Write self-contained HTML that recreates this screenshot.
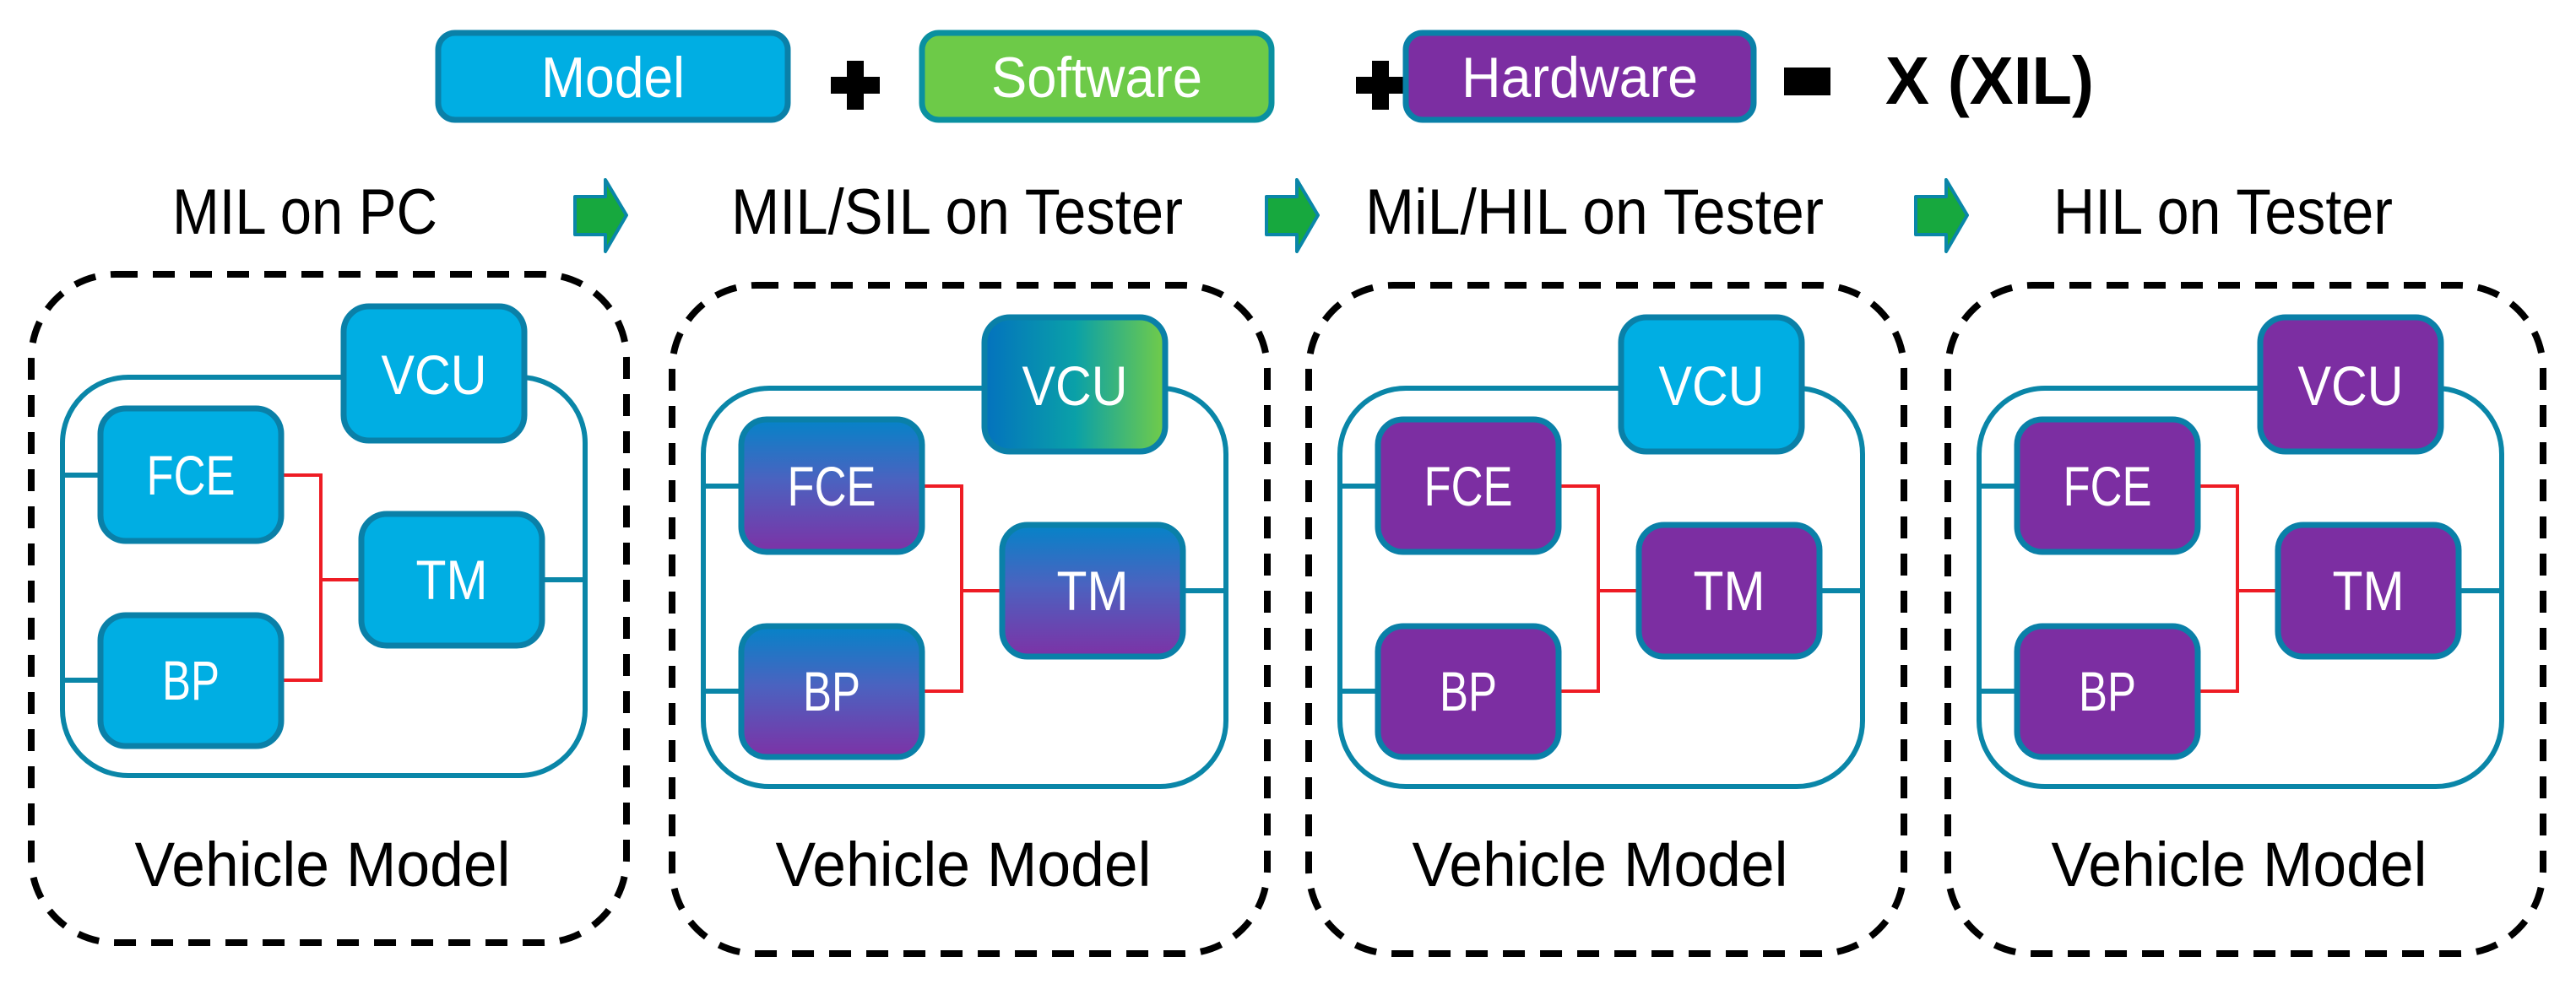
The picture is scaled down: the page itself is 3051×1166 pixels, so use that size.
<!DOCTYPE html>
<html><head><meta charset="utf-8"><style>
html,body{margin:0;padding:0;background:#fff;}
svg{display:block;}
text{font-family:"Liberation Sans",sans-serif;}
</style></head><body>
<svg width="3051" height="1166" viewBox="0 0 3051 1166" xmlns="http://www.w3.org/2000/svg">
<defs>
<linearGradient id="gv" x1="0" y1="0" x2="0" y2="1"><stop offset="0" stop-color="#0583c8"/><stop offset="0.45" stop-color="#4a63c0"/><stop offset="1" stop-color="#7d32a6"/></linearGradient>
<linearGradient id="gh" x1="0" y1="0" x2="1" y2="0"><stop offset="0" stop-color="#0372be"/><stop offset="0.5" stop-color="#0aa0a8"/><stop offset="1" stop-color="#72cc48"/></linearGradient>
<g id="arrow"><path d="M0 20 H36 V0 L61 42 L36 85 V65 H0 Z" fill="#17a83e" stroke="#0a86a8" stroke-width="4" stroke-linejoin="round"/></g>
</defs>

<rect x="519" y="39" width="414" height="103" rx="20" fill="#00aee3" stroke="#0a80a8" stroke-width="7"/>
<text x="726" y="115" font-size="68" fill="#fff" text-anchor="middle" textLength="170" lengthAdjust="spacingAndGlyphs">Model</text>
<path d="M1003 72 h20 v19 h19 v20 h-19 v19 h-20 v-19 h-19 v-20 h19 z" fill="#000"/>
<rect x="1092" y="39" width="414" height="103" rx="20" fill="#6dca48" stroke="#0a90a0" stroke-width="7"/>
<text x="1299" y="115" font-size="68" fill="#fff" text-anchor="middle" textLength="250" lengthAdjust="spacingAndGlyphs">Software</text>
<path d="M1625 72 h20 v19 h19 v20 h-19 v19 h-20 v-19 h-19 v-20 h19 z" fill="#000"/>
<rect x="1665" y="39" width="412" height="103" rx="20" fill="#7c2ea2" stroke="#0a80a8" stroke-width="7"/>
<text x="1871" y="115" font-size="68" fill="#fff" text-anchor="middle" textLength="280" lengthAdjust="spacingAndGlyphs">Hardware</text>
<rect x="2113" y="80" width="55" height="33" fill="#000"/>
<text x="2233" y="123" font-size="80" font-weight="bold" fill="#000" textLength="247" lengthAdjust="spacingAndGlyphs">X (XIL)</text>

<text x="204" y="277" font-size="76" fill="#000" textLength="314" lengthAdjust="spacingAndGlyphs">MIL on PC</text>
<text x="866" y="277" font-size="76" fill="#000" textLength="535" lengthAdjust="spacingAndGlyphs">MIL/SIL on Tester</text>
<text x="1617" y="277" font-size="76" fill="#000" textLength="543" lengthAdjust="spacingAndGlyphs">MiL/HIL on Tester</text>
<text x="2432" y="277" font-size="76" fill="#000" textLength="402" lengthAdjust="spacingAndGlyphs">HIL on Tester</text>
<use href="#arrow" x="681" y="213"/>
<use href="#arrow" x="1500" y="213"/>
<use href="#arrow" x="2269" y="213"/>

<g id="p1">
<rect x="37" y="325" width="705" height="792" rx="100" fill="none" stroke="#000" stroke-width="8" stroke-dasharray="26 18"/>
<rect x="74" y="447" width="619" height="472" rx="78" fill="none" stroke="#0a86a8" stroke-width="6"/>
<path d="M74 563 H120 M74 806 H120 M640 687 H693" stroke="#0a86a8" stroke-width="6" fill="none"/>
<path d="M334 563 H380 V806 H334 M380 687 H428" stroke="#ee1c24" stroke-width="4" fill="none"/>
</g>
<g transform="translate(759,13)"><use href="#p1"/></g>
<g transform="translate(1513,13)"><use href="#p1"/></g>
<g transform="translate(2270,13)"><use href="#p1"/></g>

<g fill="#00aee3" stroke="#0a80a8" stroke-width="7">
<rect x="407" y="363" width="214" height="159" rx="30"/>
<rect x="119" y="484" width="214" height="157" rx="30"/>
<rect x="428" y="609" width="214" height="156" rx="30"/>
<rect x="119" y="729" width="214" height="155" rx="30"/>
</g>
<g stroke="#0a80a8" stroke-width="7">
<rect x="1166" y="376" width="214" height="159" rx="30" fill="url(#gh)"/>
<rect x="878" y="497" width="214" height="157" rx="30" fill="url(#gv)"/>
<rect x="1187" y="622" width="214" height="156" rx="30" fill="url(#gv)"/>
<rect x="878" y="742" width="214" height="155" rx="30" fill="url(#gv)"/>
</g>
<g stroke="#0a80a8" stroke-width="7">
<rect x="1920" y="376" width="214" height="159" rx="30" fill="#00aee3"/>
<rect x="1632" y="497" width="214" height="157" rx="30" fill="#7c2ea2"/>
<rect x="1941" y="622" width="214" height="156" rx="30" fill="#7c2ea2"/>
<rect x="1632" y="742" width="214" height="155" rx="30" fill="#7c2ea2"/>
</g>
<g stroke="#0a80a8" stroke-width="7" fill="#7c2ea2">
<rect x="2677" y="376" width="214" height="159" rx="30"/>
<rect x="2389" y="497" width="214" height="157" rx="30"/>
<rect x="2698" y="622" width="214" height="156" rx="30"/>
<rect x="2389" y="742" width="214" height="155" rx="30"/>
</g>

<g id="l1" font-size="66" fill="#fff" text-anchor="middle">
<text x="514" y="467" textLength="125" lengthAdjust="spacingAndGlyphs">VCU</text>
<text x="226" y="586" textLength="105" lengthAdjust="spacingAndGlyphs">FCE</text>
<text x="535" y="710" textLength="85" lengthAdjust="spacingAndGlyphs">TM</text>
<text x="226" y="829" textLength="68" lengthAdjust="spacingAndGlyphs">BP</text>
</g>
<g transform="translate(759,13)"><use href="#l1"/></g>
<g transform="translate(1513,13)"><use href="#l1"/></g>
<g transform="translate(2270,13)"><use href="#l1"/></g>

<g id="v1"><text x="382" y="1050" font-size="74" fill="#000" text-anchor="middle" textLength="445" lengthAdjust="spacingAndGlyphs">Vehicle Model</text></g>
<g transform="translate(759,0)"><use href="#v1"/></g>
<g transform="translate(1513,0)"><use href="#v1"/></g>
<g transform="translate(2270,0)"><use href="#v1"/></g>
</svg>
</body></html>
